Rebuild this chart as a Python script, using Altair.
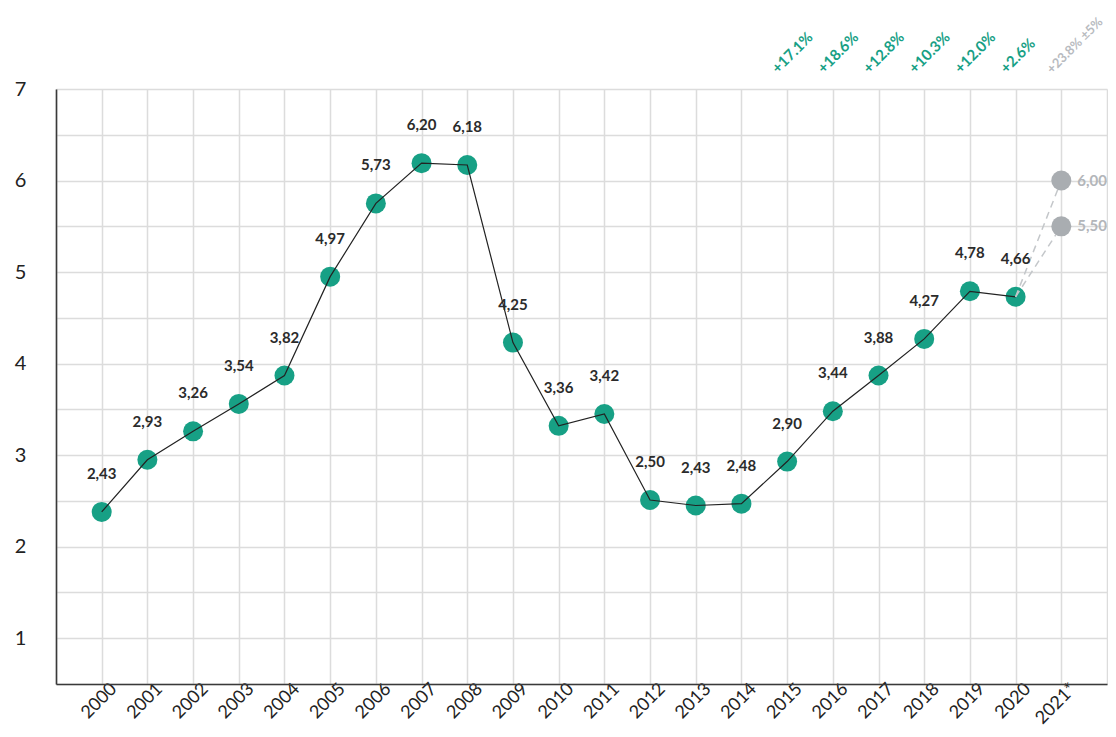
import altair as alt
import pandas as pd

# ---- data ----
years = list(range(2000, 2021))
positions = [2.38, 2.95, 3.26, 3.56, 3.87, 4.95, 5.75, 6.19, 6.17, 4.23, 3.32,
             3.45, 2.51, 2.45, 2.47, 2.93, 3.48, 3.87, 4.27, 4.79, 4.73]
value_labels = ["2,43", "2,93", "3,26", "3,54", "3,82", "4,97", "5,73", "6,20",
                "6,18", "4,25", "3,36", "3,42", "2,50", "2,43", "2,48", "2,90",
                "3,44", "3,88", "4,27", "4,78", "4,66"]

forecast_year = 2021
forecast_values = [6.0, 5.5]
forecast_labels = ["6,00", "5,50"]

growth_years = [2015, 2016, 2017, 2018, 2019, 2020, 2021]
growth_labels = ["+17.1%", "+18.6%", "+12.8%", "+10.3%", "+12.0%", "+2.6%", "+23.8% ±5%"]

x_ticks = list(range(1999, 2023))
y_ticks = [0.5, 1, 1.5, 2, 2.5, 3, 3.5, 4, 4.5, 5, 5.5, 6, 6.5, 7]

GREEN = "#17a085"
GREY = "#a9adb1"
FONT = "Lato"

main_df = pd.DataFrame({"year": years, "value": positions, "label": value_labels})
fc_df = pd.DataFrame({"year": [forecast_year] * len(forecast_values),
                      "value": forecast_values, "label": forecast_labels})
dash_rows = []
for i, v in enumerate(forecast_values):
    dash_rows.append({"year": years[-1], "value": positions[-1], "seg": i})
    dash_rows.append({"year": forecast_year, "value": v, "seg": i})
dash_df = pd.DataFrame(dash_rows)
growth_df = pd.DataFrame({"year": growth_years, "label": growth_labels})

x_enc = alt.X(
    "year:Q",
    scale=alt.Scale(domain=[1999, 2022], nice=False, zero=False),
    axis=alt.Axis(
        values=x_ticks, format="d", labelOverlap=False, labelFlush=False,
        labelExpr="datum.value < 2000 || datum.value > 2021 ? '' : (datum.value == 2021 ? '2021*' : datum.label)",
        labelAngle=315, labelAlign="right", labelBaseline="middle",
        labelPadding=2, labelOffset=12, labelFontSize=18, labelBound=False,
    ),
    title=None,
)
y_enc = alt.Y(
    "value:Q",
    scale=alt.Scale(domain=[0.5, 7], nice=False, zero=False),
    axis=alt.Axis(
        values=y_ticks, format="~g", labelOverlap=False,
        labelExpr="datum.value % 1 === 0 ? datum.label : ''",
        labelAlign="center", labelBaseline="middle", labelPadding=36,
        labelFontSize=20,
    ),
    title=None,
)

circles = alt.Chart(main_df).mark_circle(size=400, opacity=1, color=GREEN).encode(x=x_enc, y=y_enc)
line = alt.Chart(main_df).mark_line(color="#222222", strokeWidth=1.2).encode(x=x_enc, y=y_enc)
dashes = alt.Chart(dash_df).mark_line(color="#c4c7ca", strokeWidth=1.5, strokeDash=[7, 5]).encode(
    x=x_enc, y=y_enc, detail="seg:N")
fc_circles = alt.Chart(fc_df).mark_circle(size=400, opacity=1, color=GREY).encode(x=x_enc, y=y_enc)
labels = alt.Chart(main_df).mark_text(
    dy=-38, fontSize=15, fontWeight="bold", font=FONT, color="#2b2b2b"
).encode(x=x_enc, y=y_enc, text="label:N")
fc_labels = alt.Chart(fc_df).mark_text(
    dx=16, align="left", baseline="middle", fontSize=15, fontWeight="bold", font=FONT, color="#b3b6ba"
).encode(x=x_enc, y=y_enc, text="label:N")
growth = alt.Chart(growth_df).mark_text(
    angle=315, align="left", baseline="alphabetic", dx=4, dy=-17,
    fontWeight="bold", font=FONT,
).encode(
    x=x_enc, y=alt.value(0), text="label:N",
    color=alt.condition(alt.datum.year == 2021, alt.value("#b8bbbf"), alt.value(GREEN)),
    size=alt.condition(alt.datum.year == 2021, alt.value(13), alt.value(15)),
)

chart = alt.layer(circles, line, dashes, fc_circles, labels, fc_labels, growth).properties(
    width=1051, height=595,
    padding={"left": 48, "top": 81, "right": 1, "bottom": 45},
    autosize=alt.AutoSizeParams(type="none"),
).configure_view(stroke=None).configure_axis(
    gridColor="#dcdcdc", gridWidth=1.5, domainColor="#3a3a3a", domainWidth=1.6,
    ticks=False, labelFont=FONT, labelColor="#222222",
)

chart.save("out.html", embed_options={"renderer": "svg", "actions": False})
